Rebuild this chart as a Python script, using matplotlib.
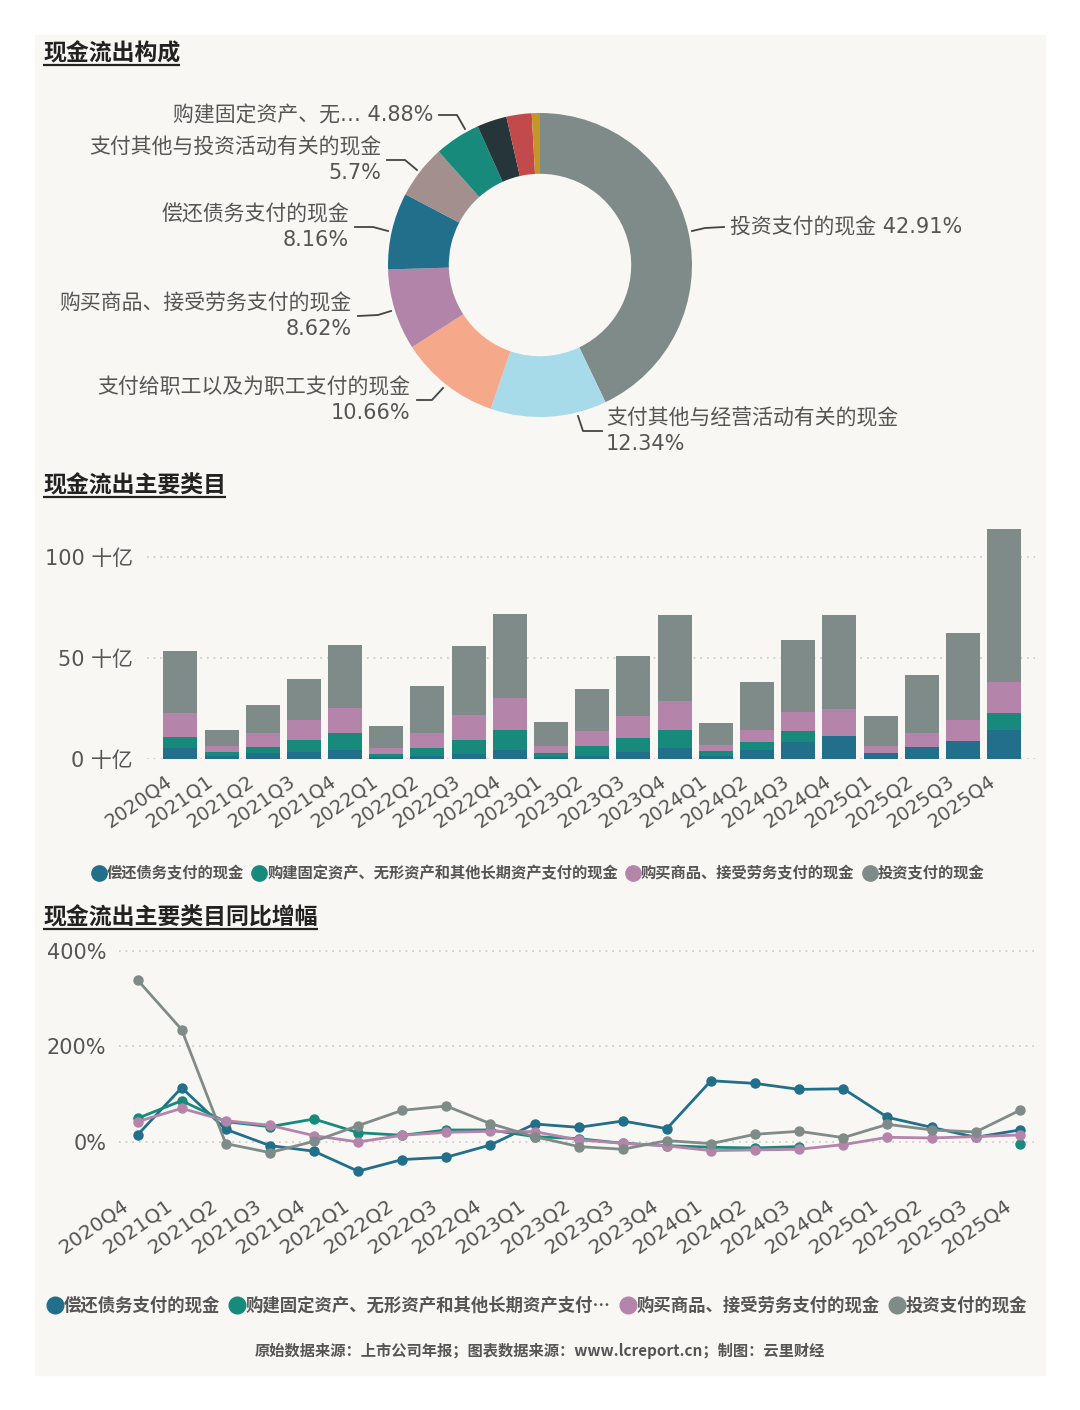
import matplotlib
matplotlib.use('Agg')
import matplotlib.pyplot as plt
import matplotlib.transforms as mtransforms
import numpy as np
from matplotlib.lines import Line2D
from matplotlib.patches import Rectangle
from matplotlib.ticker import FuncFormatter

plt.rcParams['font.family'] = ['DejaVu Sans', 'Noto Sans CJK SC']

# ---------------- data ----------------
pie_names = ['投资支付的现金', '支付其他与经营活动有关的现金', '支付给职工以及为职工支付的现金',
             '购买商品、接受劳务支付的现金', '偿还债务支付的现金', '支付其他与投资活动有关的现金',
             '购建固定资产、无形资产和其他长期资产支付的现金', '分配股利、利润或偿付利息支付的现金',
             '支付的各项税费', '其他']
pie_short = ['投资支付的现金', '支付其他与经营活动有关的现金', '支付给职工以及为职工支付的现金',
             '购买商品、接受劳务支付的现金', '偿还债务支付的现金', '支付其他与投资活动有关的现金',
             '购建固定资产、无…', '', '', '']
pie_values = [42.91, 12.34, 10.66, 8.62, 8.16, 5.7, 4.88, 3.17, 2.68, 0.87]
pie_colors = ['#7f8b88', '#a7dbea', '#f5a98a', '#b384a9', '#216f8a', '#a28f8e',
              '#178a7c', '#263539', '#c24a4a', '#c49528']

quarters = ['2020Q4', '2021Q1', '2021Q2', '2021Q3', '2021Q4', '2022Q1', '2022Q2',
            '2022Q3', '2022Q4', '2023Q1', '2023Q2', '2023Q3', '2023Q4', '2024Q1',
            '2024Q2', '2024Q3', '2024Q4', '2025Q1', '2025Q2', '2025Q3', '2025Q4']
series_names = ['偿还债务支付的现金', '购建固定资产、无形资产和其他长期资产支付的现金',
                '购买商品、接受劳务支付的现金', '投资支付的现金']
series_names_line = ['偿还债务支付的现金', '购建固定资产、无形资产和其他长期资产支付…',
                     '购买商品、接受劳务支付的现金', '投资支付的现金']
series_colors = ['#216f8a', '#178a7c', '#b584aa', '#7f8b88']

debt = [5.6, 1.5, 2.8, 3.6, 4.6, 0.8, 1.6, 2.6, 4.5, 1.0, 1.6, 3.6, 5.3, 1.6, 4.6, 8.2, 11.5, 3.1, 6.1, 8.9, 14.5]
fixed = [5.4, 1.8, 3.3, 6.0, 8.4, 1.8, 4.0, 7.0, 9.9, 1.8, 4.8, 6.9, 9.2, 2.5, 4.0, 5.8, 0.0, 0.0, 0.0, 0.0, 8.4]
goods = [11.8, 3.3, 6.9, 9.9, 12.4, 3.0, 7.4, 12.0, 15.8, 3.8, 7.6, 10.9, 14.2, 3.0, 5.9, 9.3, 13.4, 3.3, 6.6, 10.6, 15.4]
invest = [30.5, 7.9, 13.9, 20.1, 31.0, 10.7, 23.3, 34.5, 41.6, 11.9, 20.5, 29.6, 42.7, 10.9, 23.8, 35.6, 46.2, 14.7, 29.0, 42.9, 75.7]

yoy_debt = [15.3, 113.9, 27.1, -6.9, -18.7, -60.4, -36.1, -31.2, -5.6, 38.2, 31.2, 44.4, 28.5,
            128.5, 122.9, 110.4, 111.8, 52.1, 31.2, 10.4, 25.7]
yoy_fixed = [50.0, 86.8, 43.1, 32.6, 48.6, 20.1, 14.6, 25.7, 25.7, 11.8, 7.6, -2.1, -6.9,
             -10.4, -11.8, -9.0, np.nan, np.nan, np.nan, np.nan, -4.2]
yoy_goods = [43.1, 70.8, 45.1, 35.4, 13.9, 0.7, 14.6, 20.8, 22.9, 22.2, 4.9, -2.1, -7.6,
             -17.4, -16.0, -14.6, -4.9, 10.4, 9.0, 11.8, 15.3]
yoy_invest = [338.9, 235.4, -2.8, -21.5, 2.1, 34.7, 66.7, 75.7, 38.9, 11.8, -9.0, -14.6, 3.5,
              -2.8, 16.7, 22.9, 9.7, 37.5, 25.7, 21.5, 66.7]

# ---------------- figure ----------------
W, H = 1080, 1410
fig = plt.figure(figsize=(W / 100, H / 100), dpi=100, facecolor='white')


def px_axes(l, t, r, b):
    return fig.add_axes([l / W, 1 - b / H, (r - l) / W, (b - t) / H])


overlay = px_axes(0, 0, W, H)
overlay.set_xlim(0, W)
overlay.set_ylim(H, 0)
overlay.axis('off')
overlay.add_patch(Rectangle((35, 35), 1010, 1340, color='#f9f7f4', zorder=0))

TXT = '#555555'
TITLE = '#222222'

titles = [('现金流出构成', 43, 54), ('现金流出主要类目', 43, 486), ('现金流出主要类目同比增幅', 43, 918)]
title_objs = []
for t, x, y in titles:
    o = overlay.text(x, y, t, fontsize=16.5, fontweight='bold', color=TITLE, ha='left', va='center',
                     family=['Noto Sans CJK SC', 'DejaVu Sans'])
    title_objs.append((o, y))

# ---------------- donut ----------------
cx, cy, R = 540, 265, 152
ax_pie = px_axes(cx - R, cy - R, cx + R, cy + R)
ax_pie.pie(pie_values, colors=pie_colors, startangle=90, counterclock=False, radius=1,
           wedgeprops=dict(width=0.4, linewidth=0))
ax_pie.set_xlim(-1, 1)
ax_pie.set_ylim(-1, 1)
ax_pie.set_aspect('equal')
ax_pie.axis('off')

# label placements: (index, x, y, ha, single_line, leader points)
label_layout = [
    (0, 730, 227, 'left', True, [(692, 231), (705, 228), (724, 227)]),
    (1, 606, 431, 'left', False, [(578, 416), (583, 431), (602, 431)]),
    (2, 410, 400, 'right', False, [(417, 400), (432, 400), (443, 388)]),
    (3, 352, 316, 'right', False, [(358, 316), (378, 315), (391, 311)]),
    (4, 349, 227, 'right', False, [(355, 227), (373, 227), (388, 231)]),
    (5, 381, 160, 'right', False, [(387, 160), (405, 160), (417, 170)]),
    (6, 433, 115, 'right', True, [(439, 115), (457, 115), (465, 129)]),
]
for idx, x, y, ha, single, pts in label_layout:
    pct = f"{pie_values[idx]:g}%"
    txt = f"{pie_short[idx]} {pct}" if single else f"{pie_short[idx]}\n{pct}"
    overlay.text(x, y, txt, fontsize=15, color=TXT, ha=ha, va='center', multialignment=ha,
                 linespacing=1.32)
    xs, ys = zip(*pts)
    overlay.plot(xs, ys, color='#444444', lw=1.3)

# ---------------- stacked bars ----------------
ax_bar = px_axes(147, 520.6, 1035, 759)
ax_bar.set_facecolor('none')
x = np.arange(len(quarters))
bottom = np.zeros(len(quarters))
for vals, c in zip([debt, fixed, goods, invest], series_colors):
    vals = np.array(vals)
    ax_bar.bar(x, vals, bottom=bottom, width=0.825, color=c, zorder=3)
    bottom += vals
ax_bar.set_xlim(-0.81, 20.75)
ax_bar.set_ylim(0, 118)
ax_bar.set_yticks([0, 50, 100])
ax_bar.yaxis.set_major_formatter(FuncFormatter(lambda v, p: f"{v:g} 十亿"))
ax_bar.set_xticks(x)
ax_bar.set_xticklabels(quarters, rotation=35, ha='right', rotation_mode='anchor')
ax_bar.tick_params(axis='y', length=0, labelsize=15, labelcolor=TXT, pad=10)
ax_bar.tick_params(axis='x', length=0, labelsize=14, labelcolor=TXT, pad=9)
ax_bar.grid(axis='y', color='#c9c9c9', linestyle=(0, (1, 3)), lw=1.2, zorder=0)
for s in ax_bar.spines.values():
    s.set_visible(False)

# ---------------- yoy lines ----------------
ax_line = px_axes(119, 945.9, 1037, 1180.6)
ax_line.set_facecolor('none')
for vals, c in zip([yoy_debt, yoy_fixed, yoy_goods, yoy_invest], series_colors):
    ax_line.plot(x, vals, color=c, lw=2.0, marker='o', markersize=6.5, zorder=3)
ax_line.set_xlim(-0.42, 20.39)
ax_line.set_ylim(-80, 410)
ax_line.set_yticks([0, 200, 400])
ax_line.yaxis.set_major_formatter(FuncFormatter(lambda v, p: f"{v:g}%"))
ax_line.set_xticks(x)
ax_line.set_xticklabels(quarters, rotation=35, ha='right', rotation_mode='anchor')
ax_line.tick_params(axis='y', length=0, labelsize=15, labelcolor=TXT, pad=9)
ax_line.tick_params(axis='x', length=0, labelsize=14.5, labelcolor=TXT, pad=11)
ax_line.grid(axis='y', color='#c9c9c9', linestyle=(0, (1, 3)), lw=1.2, zorder=0)
for s in ax_line.spines.values():
    s.set_visible(False)

# shift rotated tick labels slightly left, like the reference
shift = mtransforms.ScaledTranslation(-16 / 100, 0, fig.dpi_scale_trans)
for ax in (ax_bar, ax_line):
    for lab in ax.get_xticklabels():
        lab.set_transform(lab.get_transform() + shift)

# ---------------- legends ----------------
def make_handles(ms):
    return [Line2D([], [], linestyle='none', marker='o', markersize=ms, color=c) for c in series_colors]


leg1 = fig.legend(make_handles(11), series_names, loc='center', bbox_to_anchor=(537 / W, 1 - 873 / H),
                  ncol=4, frameon=False, handletextpad=-0.1, columnspacing=0.4, handlelength=1.2,
                  prop={'size': 11, 'weight': 'bold', 'family': ['Noto Sans CJK SC', 'DejaVu Sans']})
for t in leg1.get_texts():
    t.set_color(TXT)

leg2 = fig.legend(make_handles(12), series_names_line, loc='center', bbox_to_anchor=(536 / W, 1 - 1306 / H),
                  ncol=4, frameon=False, handletextpad=-0.1, columnspacing=0.4, handlelength=1.2,
                  prop={'size': 12.5, 'weight': 'bold', 'family': ['Noto Sans CJK SC', 'DejaVu Sans']})
for t in leg2.get_texts():
    t.set_color(TXT)

overlay.text(540, 1351, '原始数据来源：上市公司年报；图表数据来源：www.lcreport.cn；制图：云里财经',
             fontsize=11, fontweight='bold', color=TXT, ha='center', va='center',
             family=['Noto Sans CJK SC', 'DejaVu Sans'])

# ---------------- title underlines ----------------
fig.canvas.draw()
inv = overlay.transData.inverted()
for o, y in title_objs:
    bb = o.get_window_extent()
    (x0, _), (x1, _) = inv.transform([(bb.x0, bb.y0), (bb.x1, bb.y1)])
    overlay.plot([x0, x1], [y + 11, y + 11], color=TITLE, lw=1.6, solid_capstyle='butt')

fig.savefig('out.png', dpi=100, facecolor='white')
